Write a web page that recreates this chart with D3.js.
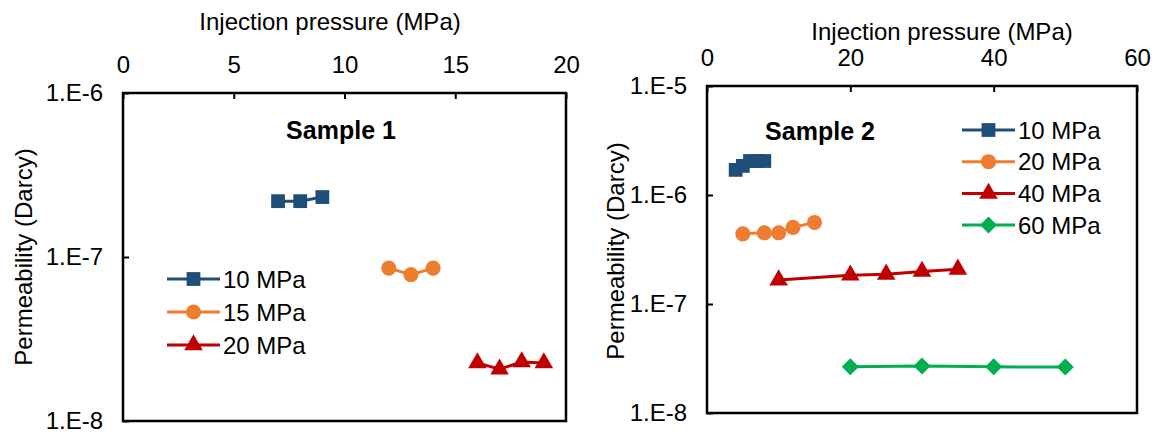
<!DOCTYPE html>
<html>
<head>
<meta charset="utf-8">
<script src="https://cdn.jsdelivr.net/npm/d3@7"></script>
<style>
  body { margin: 0; background: #fff; }
  svg { display: block; }
  text { font-family: "Liberation Sans", Arial, sans-serif; fill: #000; }
</style>
</head>
<body>
<svg id="chart" width="1156" height="434"></svg>
<script>
// ---------- data ----------
const xTicks1 = [0, 5, 10, 15, 20];
const xTicks2 = [0, 20, 40, 60];
const yTicks1 = [1e-6, 1e-7, 1e-8];
const yTicks2 = [1e-5, 1e-6, 1e-7, 1e-8];

// Sample 1
const s1Names = ["10 MPa", "15 MPa", "20 MPa"];
const s1_10_x = [7, 8, 9];
const s1_10_y = [2.19e-7, 2.19e-7, 2.32e-7];
const s1_15_x = [12, 13, 14];
const s1_15_y = [8.55e-8, 7.8e-8, 8.55e-8];
const s1_20_x = [16, 17, 18, 19];
const s1_20_y = [2.26e-8, 2.07e-8, 2.29e-8, 2.26e-8];

// Sample 2
const s2Names = ["10 MPa", "20 MPa", "40 MPa", "60 MPa"];
const s2_10_x = [4, 5, 6, 7, 8];
const s2_10_y = [1.7e-6, 1.85e-6, 2.05e-6, 2.05e-6, 2.05e-6];
const s2_20_x = [5, 8, 10, 12, 15];
const s2_20_y = [4.4e-7, 4.5e-7, 4.5e-7, 5.05e-7, 5.6e-7];
const s2_40_x = [10, 20, 25, 30, 35];
const s2_40_y = [1.66e-7, 1.84e-7, 1.87e-7, 1.99e-7, 2.08e-7];
const s2_60_x = [20, 30, 40, 50];
const s2_60_y = [2.65e-8, 2.7e-8, 2.65e-8, 2.64e-8];

const colors = { blue: "#1F4E79", orange: "#ED7D31", red: "#C00000", green: "#00B050" };

// ---------- drawing ----------
const svg = d3.select("#chart");
const FS = 24;
const FONT = "Liberation Sans, Arial, sans-serif";

function fmtExp(v) {
  return "1.E" + Math.round(Math.log10(v));
}

function markerPath(shape) {
  if (shape === "square") return d3.symbol(d3.symbolSquare, 190)();
  if (shape === "circle") return d3.symbol(d3.symbolCircle, 180)();
  if (shape === "triangle") return d3.symbol(d3.symbolTriangle, 150)();
  const r = 8.5;
  return `M0,${-r}L${r},0L0,${r}L${-r},0Z`;
}

function drawPanel(cfg) {
  const g = svg.append("g");
  const x = d3.scaleLinear().domain(cfg.xDomain).range([cfg.left, cfg.right]);
  const y = d3.scaleLog().domain(cfg.yDomain).range([cfg.bottom, cfg.top]);

  const ax = g.append("g").attr("transform", `translate(0,${cfg.top})`)
    .call(d3.axisTop(x).tickValues(cfg.xTicks).tickSize(-6).tickPadding(cfg.xPad).tickFormat(d3.format("d")));
  ax.select(".domain").remove();
  ax.selectAll(".tick line").attr("stroke", "#000").attr("stroke-width", 2);
  ax.selectAll(".tick text").attr("font-size", FS).attr("fill", "#000").attr("font-family", FONT);

  const ay = g.append("g").attr("transform", `translate(${cfg.left},0)`)
    .call(d3.axisLeft(y).tickValues(cfg.yTicks).tickSize(-6).tickPadding(cfg.yPad).tickFormat(fmtExp));
  ay.select(".domain").remove();
  ay.selectAll(".tick line").attr("stroke", "#000").attr("stroke-width", 2);
  ay.selectAll(".tick text").attr("font-size", FS).attr("fill", "#000").attr("font-family", FONT);

  g.append("rect")
    .attr("x", cfg.left).attr("y", cfg.top)
    .attr("width", cfg.right - cfg.left).attr("height", cfg.bottom - cfg.top)
    .attr("fill", "none").attr("stroke", "#000").attr("stroke-width", 2.5);

  g.append("text").attr("x", cfg.xTitlePos[0]).attr("y", cfg.xTitlePos[1])
    .attr("text-anchor", "middle").attr("font-size", FS).text("Injection pressure (MPa)");
  g.append("text")
    .attr("transform", `translate(${cfg.yTitlePos[0]},${cfg.yTitlePos[1]}) rotate(-90)`)
    .attr("text-anchor", "middle").attr("font-size", FS).text("Permeability (Darcy)");
  g.append("text").attr("x", cfg.samplePos[0]).attr("y", cfg.samplePos[1])
    .attr("text-anchor", "middle").attr("font-size", 25).attr("font-weight", "bold").text(cfg.sample);

  const line = d3.line().x(d => x(d[0])).y(d => y(d[1]));

  cfg.series.forEach((s, i) => {
    const pts = d3.zip(s.x, s.y);
    g.append("path").datum(pts).attr("d", line)
      .attr("fill", "none").attr("stroke", s.color).attr("stroke-width", 3);
    g.selectAll(null).data(pts).enter().append("path")
      .attr("d", markerPath(s.shape))
      .attr("transform", d => `translate(${x(d[0])},${y(d[1])})`)
      .attr("fill", s.color);

    const ly = cfg.legend.y + i * cfg.legend.dy;
    g.append("line").attr("x1", cfg.legend.x).attr("x2", cfg.legend.x + 53)
      .attr("y1", ly).attr("y2", ly).attr("stroke", s.color).attr("stroke-width", 3);
    g.append("path").attr("d", markerPath(s.shape))
      .attr("transform", `translate(${cfg.legend.x + 26.5},${ly})`).attr("fill", s.color);
    g.append("text").attr("x", cfg.legend.x + 56).attr("y", ly + 8.5)
      .attr("font-size", FS).text(s.name);
  });
}

drawPanel({
  left: 123, right: 566, top: 93, bottom: 421,
  xDomain: [0, 20], yDomain: [1e-8, 1e-6],
  xTicks: xTicks1, yTicks: yTicks1, xPad: 20, yPad: 20,
  xTitlePos: [330, 30], yTitlePos: [32, 257], samplePos: [341, 139],
  sample: "Sample 1",
  legend: { x: 167, y: 279, dy: 33 },
  series: [
    { name: s1Names[0], x: s1_10_x, y: s1_10_y, color: colors.blue, shape: "square" },
    { name: s1Names[1], x: s1_15_x, y: s1_15_y, color: colors.orange, shape: "circle" },
    { name: s1Names[2], x: s1_20_x, y: s1_20_y, color: colors.red, shape: "triangle" }
  ]
});

drawPanel({
  left: 707, right: 1137, top: 86, bottom: 413,
  xDomain: [0, 60], yDomain: [1e-8, 1e-5],
  xTicks: xTicks2, yTicks: yTicks2, xPad: 20, yPad: 20,
  xTitlePos: [942, 40], yTitlePos: [624, 251], samplePos: [820, 140],
  sample: "Sample 2",
  legend: { x: 962, y: 130, dy: 31.7 },
  series: [
    { name: s2Names[0], x: s2_10_x, y: s2_10_y, color: colors.blue, shape: "square" },
    { name: s2Names[1], x: s2_20_x, y: s2_20_y, color: colors.orange, shape: "circle" },
    { name: s2Names[2], x: s2_40_x, y: s2_40_y, color: colors.red, shape: "triangle" },
    { name: s2Names[3], x: s2_60_x, y: s2_60_y, color: colors.green, shape: "diamond" }
  ]
});
</script>
</body>
</html>
